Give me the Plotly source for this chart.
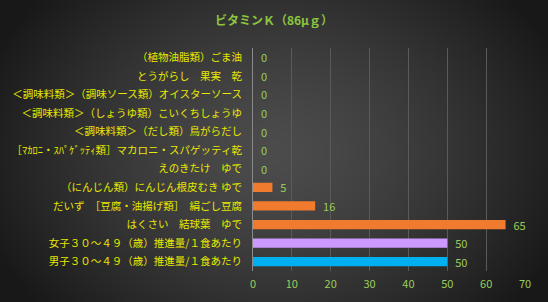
import plotly.graph_objects as go
import zlib, struct, base64, math

categories = [
    "男子３０～４９（歳）推進量/１食あたり",
    "女子３０～４９（歳）推進量/１食あたり",
    "はくさい　結球葉　ゆで",
    "だいず　［豆腐・油揚げ類］　絹ごし豆腐",
    "（にんじん類）にんじん根皮むき ゆで",
    "えのきたけ　ゆで",
    "［ﾏｶﾛﾆ・ｽﾊﾟｹﾞｯﾃｨ類］マカロニ・スパゲッティ乾",
    "＜調味料類＞（だし類）鳥がらだし",
    "＜調味料類＞（しょうゆ類）こいくちしょうゆ",
    "＜調味料類＞（調味ソース類）オイスターソース",
    "とうがらし　果実　乾",
    "（植物油脂類）ごま油",
]
values = [50, 50, 65, 16, 5, 0, 0, 0, 0, 0, 0, 0]
bar_colors = ["#00B0F0", "#CC99FF"] + ["#F07A2E"] * 10
tick_vals = [0, 10, 20, 30, 40, 50, 60, 70]


def gradient_png(w, h):
    rows = []
    cx, cy = w / 2, h / 2
    maxd = math.hypot(cx, cy)
    for y in range(h):
        row = bytearray([0])
        for x in range(w):
            d = math.hypot((x - cx), (y - cy) * 1.3) / maxd
            d = min(d, 1.0)
            v = int(76 - 52 * d ** 1.4)
            row += bytes([v, v, v])
        rows.append(bytes(row))
    raw = b"".join(rows)

    def chunk(t, data):
        c = struct.pack(">I", len(data)) + t + data
        return c + struct.pack(">I", zlib.crc32(t + data) & 0xffffffff)

    png = b"\x89PNG\r\n\x1a\n" + chunk(b"IHDR", struct.pack(">IIBBBBB", w, h, 8, 2, 0, 0, 0))
    png += chunk(b"IDAT", zlib.compress(raw, 9)) + chunk(b"IEND", b"")
    return "data:image/png;base64," + base64.b64encode(png).decode()


fig = go.Figure()
fig.add_trace(go.Bar(
    y=categories, x=values, orientation="h",
    marker=dict(color=bar_colors, line=dict(width=0)),
    width=0.5,
    text=["  " + str(v) for v in values], textposition="outside", constraintext="none",
    textfont=dict(color="#9ACD5A", size=11, family="Noto Sans CJK JP"),
    cliponaxis=False,
))
fig.update_layout(
    width=548, height=302,
    margin=dict(l=253, r=23, t=48, b=31, autoexpand=False),
    paper_bgcolor="#333333", plot_bgcolor="rgba(0,0,0,0)",
    showlegend=False,
    images=[dict(source=gradient_png(274, 151), xref="paper", yref="paper",
                 x=-253 / 272, y=1 + 48 / 223, sizex=548 / 272, sizey=302 / 223,
                 xanchor="left", yanchor="top", sizing="stretch", layer="below")],
    title=dict(text="<b>ビタミンＫ（86μｇ）</b>", x=0.5, xanchor="center", y=0.93, yanchor="middle",
               font=dict(color="#8CC63F", size=12, family="Noto Sans CJK JP")),
)
fig.update_xaxes(range=[0, 70], tickvals=tick_vals, showgrid=True, gridcolor="#5a5a5a", gridwidth=1,
                 zeroline=False, tickfont=dict(color="#9ACD5A", size=11, family="Noto Sans CJK JP"),
                 showline=False, ticks="", automargin=False, ticklabelstandoff=5)
fig.update_yaxes(showgrid=False, showline=True, linecolor="#8a8a8a", linewidth=1, ticks="",
                 tickfont=dict(color="#E8E800", size=10.5, family="Noto Sans CJK JP"),
                 ticklabelstandoff=8, automargin=False)
fig.write_html("out.html")
